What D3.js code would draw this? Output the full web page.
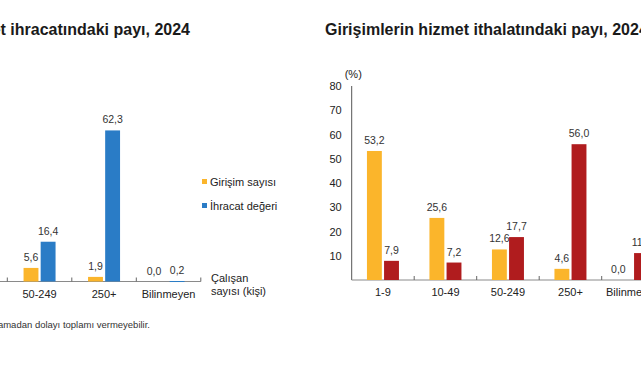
<!DOCTYPE html>
<html>
<head>
<meta charset="utf-8">
<script src="https://cdn.jsdelivr.net/npm/d3@7"></script>
<style>
  body { margin: 0; background: #fff; }
  svg { font-family: "Liberation Sans", Arial, sans-serif; display: block; }
  .title { font-size: 16px; font-weight: bold; fill: #1a1a1a; }
  .val { font-size: 10.5px; fill: #333; text-anchor: middle; }
  .cat { font-size: 11px; fill: #222; text-anchor: middle; }
  .lab { font-size: 11px; fill: #222; }
</style>
</head>
<body>
<svg id="chart" width="641" height="380"></svg>
<script>
const categories = ["1-9", "10-49", "50-249", "250+", "Bilinmeyen"];
const yTicks = [10, 20, 30, 40, 50, 60, 70, 80];

// left panel (export) - first two groups are outside the visible picture
const exportFirms = [null, null, 5.6, 1.9, 0.0];
const exportValue = [null, null, 16.4, 62.3, 0.2];
// right panel (import)
const importFirms = [53.2, 25.6, 12.6, 4.6, 0.0];
const importValue = [7.9, 7.2, 17.7, 56.0, 11.1];

const legendLabels = ["Girişim sayısı", "İhracat değeri"];

const yellow = "#fbb52b";
const blue = "#2a7cc6";
const red = "#b01c1e";

const svg = d3.select("#chart");
const fmt = v => d3.format(".1f")(v).replace(".", ",");

function panel(opts) {
	const x = d3.scaleBand().domain(categories).range(opts.xRange);
	const bw = x.bandwidth();
	const sub = d3.scaleBand().domain([0, 1]).range([bw / 2 - 16, bw / 2 + 16]).paddingInner(0.13);
	const y = d3.scaleLinear().domain([0, 80]).range([opts.base, opts.base - 194]);
	const g = svg.append("g");

	// y axis (only when it falls inside the picture)
	if (opts.xRange[0] > 0) {
		g.append("line")
			.attr("x1", opts.xRange[0]).attr("x2", opts.xRange[0])
			.attr("y1", y(80)).attr("y2", y(0))
			.attr("stroke", "#555");
		g.selectAll(".ytick").data(yTicks).enter().append("text")
			.attr("class", "lab")
			.attr("x", opts.xRange[0] - 10)
			.attr("y", d => y(d) + 4)
			.attr("text-anchor", "end")
			.text(d => d);
		g.append("text").attr("class", "lab")
			.attr("x", opts.xRange[0] - 7).attr("y", y(80) - 8)
			.text("(%)");
	}

	// baseline with separators
	g.append("line")
		.attr("x1", opts.xRange[0]).attr("x2", x(categories[categories.length - 1]) + bw)
		.attr("y1", y(0)).attr("y2", y(0))
		.attr("stroke", "#8a8a8a");
	g.selectAll(".sep").data(categories).enter().append("line")
		.attr("x1", d => x(d) + bw).attr("x2", d => x(d) + bw)
		.attr("y1", y(0)).attr("y2", y(0) - 4)
		.attr("stroke", "#666");

	const series = [
		{ vals: opts.a, color: yellow, i: 0 },
		{ vals: opts.b, color: opts.colorB, i: 1 }
	];
	series.forEach(s => {
		const data = categories.map((c, k) => ({ c, v: s.vals[k] })).filter(d => d.v != null);
		g.selectAll(null).data(data).enter().append("rect")
			.attr("x", d => x(d.c) + sub(s.i))
			.attr("width", sub.bandwidth())
			.attr("y", d => y(d.v))
			.attr("height", d => Math.max(y(0) - y(d.v), d.v > 0 ? 1 : 0))
			.attr("fill", s.color);
		g.selectAll(null).data(data).enter().append("text")
			.attr("class", "val")
			.attr("x", d => x(d.c) + sub(s.i) + sub.bandwidth() / 2 - (d.v === 0 ? 6 : 0))
			.attr("y", d => y(d.v) - 7)
			.text(d => fmt(d.v));
	});

	g.selectAll(".cat").data(categories.filter(c => x(c) + bw / 2 > 0)).enter().append("text")
		.attr("class", "cat")
		.attr("x", d => x(d) + bw / 2)
		.attr("y", y(0) + 16)
		.text(d => d);
	return { x, y };
}

panel({ xRange: [-121.7, 200.8], base: 281.5, a: exportFirms, b: exportValue, colorB: blue });
panel({ xRange: [351.7, 664.2], base: 280, a: importFirms, b: importValue, colorB: red });

// titles
svg.append("text").attr("class", "title")
	.attr("x", 190).attr("y", 35).attr("text-anchor", "end")
	.text("Girişimlerin hizmet ihracatındaki payı, 2024");
svg.append("text").attr("class", "title")
	.attr("x", 325).attr("y", 35)
	.text("Girişimlerin hizmet ithalatındaki payı, 2024");

// axis title of left panel
const axt = svg.append("text").attr("class", "lab").attr("x", 211).attr("y", 282);
axt.append("tspan").attr("x", 211).attr("dy", 0).text("Çalışan");
axt.append("tspan").attr("x", 211).attr("dy", 12.5).text("sayısı (kişi)");

// legend of left panel
const leg = svg.append("g").selectAll("g").data(legendLabels).enter().append("g")
	.attr("transform", (d, i) => `translate(202, ${182 + i * 24})`);
leg.append("rect").attr("x", 0).attr("y", -3).attr("width", 5).attr("height", 5)
	.attr("fill", (d, i) => [yellow, blue][i]);
leg.append("text").attr("class", "lab").attr("x", 8).attr("y", 4).text(d => d);

// footnote
svg.append("text")
	.attr("x", 150).attr("y", 328).attr("text-anchor", "end")
	.attr("font-size", "9.5px").attr("fill", "#333")
	.text("Not: Rakamlar yuvarlamadan dolayı toplamı vermeyebilir.");
</script>
</body>
</html>
